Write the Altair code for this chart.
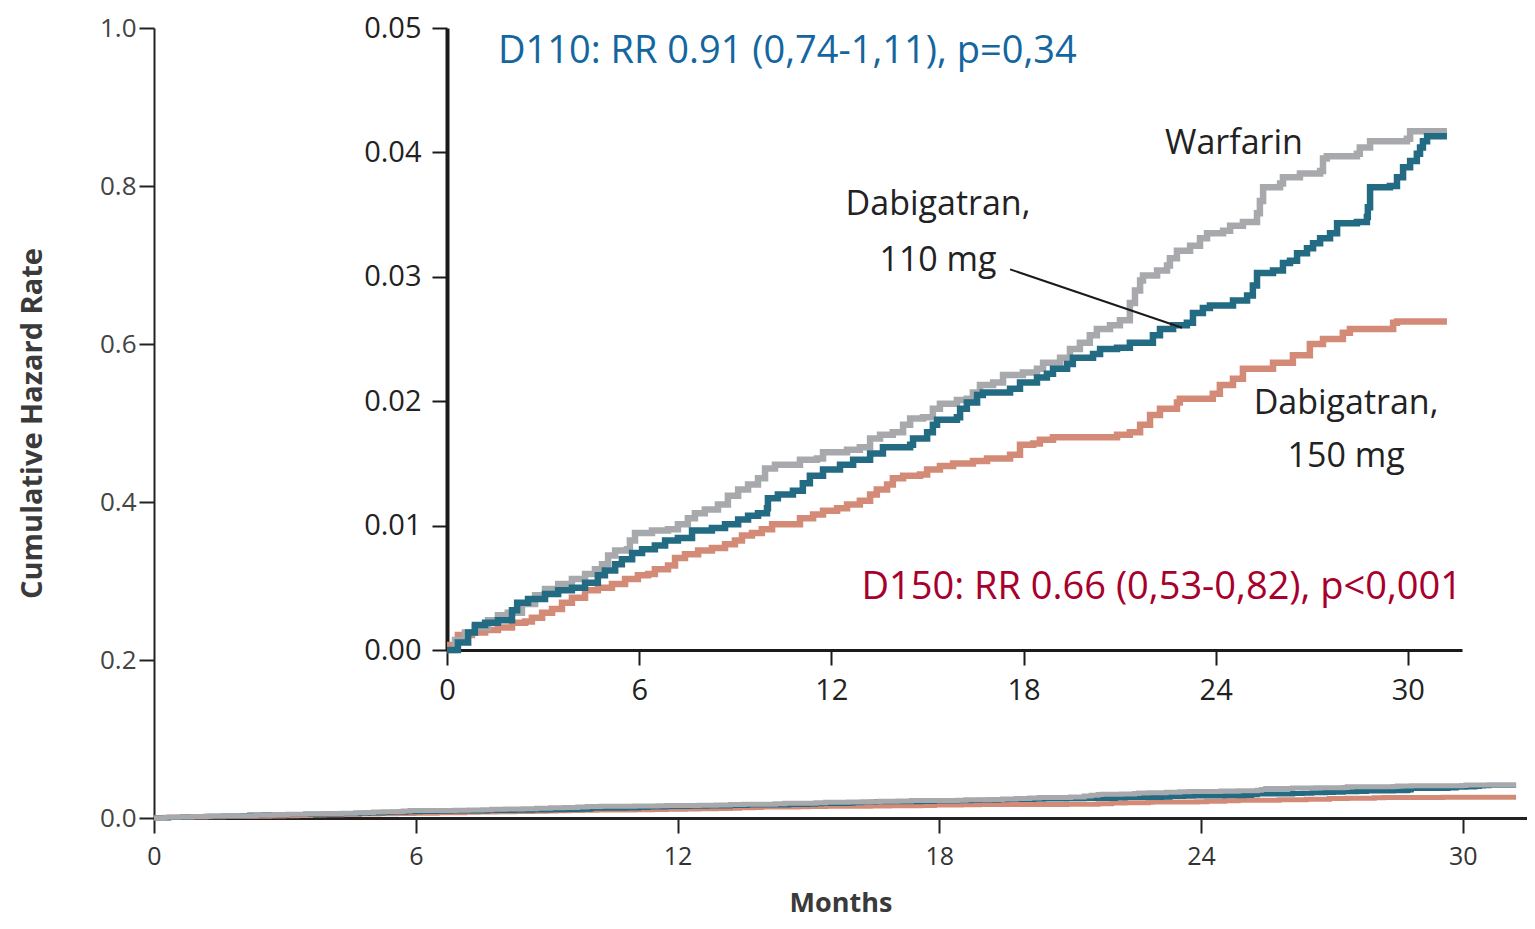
import altair as alt
import pandas as pd

# ---- data (months, cumulative hazard) ----
warf_t = [0, 0.25, 0.56, 0.87, 1.28, 1.59, 1.90, 2.34, 2.75, 3.06, 3.47, 3.90, 4.31, 4.62, 4.84, 5.03,
          5.25, 5.62, 5.71, 5.87, 6.40, 6.90, 7.21, 7.52, 7.74, 8.05, 8.46, 8.77, 9.09, 9.40, 9.71, 9.93,
          10.24, 11.02, 11.55, 11.74, 12.49, 12.89, 13.21, 13.52, 13.92, 14.24, 14.46, 14.86, 15.17,
          15.39, 15.92, 16.23, 16.42, 16.64, 17.05, 17.36, 17.98, 18.42, 18.61, 19.14, 19.45, 19.76,
          20.07, 20.29, 20.70, 21.01, 21.32, 21.48, 21.64, 21.73, 22.17, 22.48, 22.57, 22.79, 23.20,
          23.51, 23.73, 24.23, 24.45, 24.85, 25.29, 25.38, 25.48, 26.01, 26.10, 26.63, 27.26, 27.35,
          27.47, 28.41, 28.50, 28.82, 29.97, 30.07, 31.22]
warf_v = [0, 0.0008, 0.0014, 0.0018, 0.0024, 0.0028, 0.0030, 0.0037, 0.0044, 0.0049, 0.0053, 0.0057,
          0.0061, 0.0065, 0.0069, 0.0076, 0.0080, 0.0081, 0.0088, 0.0094, 0.0096, 0.0097, 0.0101, 0.0106,
          0.0110, 0.0113, 0.0117, 0.0124, 0.0129, 0.0133, 0.0138, 0.0146, 0.0149, 0.0153, 0.0154, 0.0159,
          0.0161, 0.0163, 0.0170, 0.0173, 0.0175, 0.0181, 0.0186, 0.0187, 0.0194, 0.0198, 0.0201, 0.0202,
          0.0207, 0.0213, 0.0215, 0.0221, 0.0223, 0.0226, 0.0231, 0.0235, 0.0242, 0.0247, 0.0253, 0.0258,
          0.0261, 0.0265, 0.0279, 0.0289, 0.0297, 0.0301, 0.0305, 0.0309, 0.0315, 0.0321, 0.0325, 0.0331,
          0.0335, 0.0337, 0.0341, 0.0344, 0.0351, 0.0361, 0.0372, 0.0375, 0.0380, 0.0383, 0.0385, 0.0395,
          0.0397, 0.0399, 0.0404, 0.0409, 0.0411, 0.0417, 0.0417]

d110_t = [0, 0.34, 0.66, 0.87, 1.19, 1.59, 2.03, 2.19, 2.53, 3.06, 3.47, 3.90, 4.31, 4.71, 4.93, 5.25,
          5.46, 5.78, 6.09, 6.49, 6.81, 7.21, 7.65, 8.27, 8.68, 9.09, 9.40, 9.71, 9.99, 10.02, 10.33,
          10.80, 11.11, 11.33, 11.74, 12.27, 12.68, 13.21, 13.61, 14.46, 14.55, 14.99, 15.17, 15.30,
          15.92, 16.02, 16.23, 16.55, 16.73, 17.58, 17.89, 18.42, 18.73, 18.92, 19.36, 19.54, 20.17,
          20.39, 20.92, 21.32, 22.04, 22.26, 22.67, 23.10, 23.29, 23.60, 23.82, 24.54, 24.98, 25.16,
          25.29, 25.79, 26.10, 26.32, 26.54, 26.85, 27.04, 27.26, 27.57, 27.79, 28.41, 28.72, 28.75,
          28.82, 29.44, 29.66, 29.85, 30.07, 30.28, 30.38, 30.47, 30.60, 31.22]
d110_v = [0, 0.0006, 0.0014, 0.0020, 0.0022, 0.0024, 0.0032, 0.0038, 0.0041, 0.0045, 0.0048, 0.0050,
          0.0054, 0.0060, 0.0064, 0.0069, 0.0073, 0.0078, 0.0081, 0.0084, 0.0088, 0.0090, 0.0096, 0.0098,
          0.0101, 0.0105, 0.0108, 0.0110, 0.0114, 0.0122, 0.0125, 0.0128, 0.0134, 0.0140, 0.0145, 0.0149,
          0.0153, 0.0158, 0.0163, 0.0165, 0.0170, 0.0175, 0.0181, 0.0185, 0.0187, 0.0194, 0.0199, 0.0205,
          0.0207, 0.0210, 0.0215, 0.0219, 0.0222, 0.0226, 0.0230, 0.0235, 0.0238, 0.0242, 0.0243, 0.0247,
          0.0253, 0.0258, 0.0261, 0.0263, 0.0271, 0.0275, 0.0277, 0.0281, 0.0285, 0.0293, 0.0303, 0.0305,
          0.0311, 0.0313, 0.0319, 0.0323, 0.0327, 0.0331, 0.0335, 0.0343, 0.0344, 0.0348, 0.0356, 0.0372,
          0.0373, 0.0380, 0.0388, 0.0393, 0.0399, 0.0404, 0.0409, 0.0413, 0.0413]

d150_t = [0, 0.34, 0.78, 1.19, 1.59, 2.03, 2.44, 2.65, 2.97, 3.28, 3.59, 3.90, 4.31, 4.71, 5.15, 5.56,
          5.96, 6.28, 6.49, 6.90, 7.12, 7.43, 7.84, 8.27, 8.68, 8.99, 9.21, 9.52, 9.83, 10.15, 11.02,
          11.43, 11.74, 12.18, 12.49, 12.89, 13.21, 13.42, 13.74, 13.92, 14.24, 14.77, 14.99, 15.39,
          15.80, 16.42, 16.86, 17.58, 17.89, 18.30, 18.51, 18.92, 20.92, 21.32, 21.64, 21.95, 22.26,
          22.79, 22.88, 23.91, 24.13, 24.54, 24.85, 25.79, 26.41, 26.94, 27.35, 27.97, 28.19, 29.54,
          29.66, 31.22]
d150_v = [0.0004, 0.0012, 0.0014, 0.0016, 0.0018, 0.0022, 0.0023, 0.0026, 0.0030, 0.0033, 0.0038, 0.0042,
          0.0048, 0.0050, 0.0053, 0.0057, 0.0060, 0.0061, 0.0065, 0.0068, 0.0074, 0.0077, 0.0080, 0.0082,
          0.0085, 0.0088, 0.0092, 0.0094, 0.0097, 0.0101, 0.0106, 0.0109, 0.0112, 0.0114, 0.0117, 0.0120,
          0.0125, 0.0129, 0.0133, 0.0138, 0.0140, 0.0141, 0.0145, 0.0148, 0.0150, 0.0152, 0.0154, 0.0157,
          0.0165, 0.0166, 0.0169, 0.0171, 0.0173, 0.0175, 0.0181, 0.0189, 0.0194, 0.0199, 0.0202, 0.0206,
          0.0213, 0.0218, 0.0226, 0.0231, 0.0237, 0.0246, 0.0250, 0.0255, 0.0258, 0.0263, 0.0264, 0.0264]

outer_ticks_x = [0, 6, 12, 18, 24, 30]
outer_ticks_y = [0.0, 0.2, 0.4, 0.6, 0.8, 1.0]
inset_ticks_y = [0.0, 0.01, 0.02, 0.03, 0.04, 0.05]

GRAY = "#a7a9ac"
TEAL = "#236a83"
SALMON = "#d38b77"

warf = pd.DataFrame({"t": warf_t, "v": warf_v})
d110 = pd.DataFrame({"t": d110_t, "v": d110_v})
d150 = pd.DataFrame({"t": d150_t, "v": d150_v})

TOP = 20
W, H = 1373, 790
FONT = "Open Sans"

# ---------- outer chart ----------
ox = alt.X("t:Q", scale=alt.Scale(domain=[0, 31.47], nice=False, zero=False),
           axis=alt.Axis(values=outer_ticks_x, title="Months", orient="bottom", grid=False, labelFlush=False,
                         domainColor="#222", domainWidth=3, tickColor="#222", tickWidth=2, tickSize=15,
                         labelFont=FONT, labelFontSize=25, labelColor="#333", labelPadding=11,
                         titleFont=FONT, titleFontSize=27, titleFontWeight="bold", titleColor="#3a3a3a",
                         titlePadding=21))
oy = alt.Y("v:Q", scale=alt.Scale(domain=[0, 1], nice=False),
           axis=alt.Axis(values=outer_ticks_y, format=".1f", title="Cumulative Hazard Rate", orient="left",
                         grid=False, labelFlush=False, domainColor="#222", domainWidth=2, tickColor="#222",
                         tickWidth=2, tickSize=15, labelFont=FONT, labelFontSize=26, labelColor="#444",
                         labelPadding=3, titleFont=FONT, titleFontSize=29, titleFontWeight="bold",
                         titleColor="#3a3a3a", titlePadding=52))

outer = alt.layer(
    alt.Chart(d150).mark_line(interpolate="step-after", color=SALMON, strokeWidth=5).encode(x=ox, y=oy),
    alt.Chart(d110).mark_line(interpolate="step-after", color=TEAL, strokeWidth=5).encode(x=ox, y=oy),
    alt.Chart(warf).mark_line(interpolate="step-after", color=GRAY, strokeWidth=5).encode(x=ox, y=oy),
)

# ---------- inset chart ----------
IX0, IX1 = 293, 1308
IY0 = 650 - 8 - TOP
ix_scale = alt.Scale(domain=[0, 31.69], range=[IX0, IX1], nice=False, zero=False)
iy_scale = alt.Scale(domain=[0, 0.05], range=[IY0, 0], nice=False)

ix = alt.X("t:Q", scale=ix_scale,
           axis=alt.Axis(values=outer_ticks_x, title=None, orient="bottom", offset=-(H - IY0), grid=False,
                         labelFlush=False, domainColor="#1a1a1a", domainWidth=3, tickColor="#1a1a1a",
                         tickWidth=2, tickSize=15, labelFont=FONT, labelFontSize=29, labelColor="#222",
                         labelPadding=11))
iy = alt.Y("v:Q", scale=iy_scale,
           axis=alt.Axis(values=inset_ticks_y, format=".2f", title=None, orient="left", offset=-IX0, grid=False,
                         labelFlush=False, domainColor="#1a1a1a", domainWidth=4, tickColor="#1a1a1a",
                         tickWidth=2, tickSize=15, labelFont=FONT, labelFontSize=29, labelColor="#222",
                         labelPadding=11))

labels = pd.DataFrame({
    "t": [24.57, 15.33, 15.33, 28.07, 28.07],
    "v": [0.0407, 0.0358, 0.0313, 0.0198, 0.0155],
    "txt": ["Warfarin", "Dabigatran,", "110 mg", "Dabigatran,", "150 mg"],
})
rr = pd.DataFrame({
    "t": [1.59, 31.69],
    "v": [0.0481, 0.0050],
    "txt": ["D110: RR 0.91 (0,74-1,11), p=0,34", "D150: RR 0.66 (0,53-0,82), p<0,001"],
})
leader = pd.DataFrame({"t": [17.58, 22.95], "v": [0.0306, 0.0259]})

inset = alt.layer(
    alt.Chart(d150).mark_line(interpolate="step-after", color=SALMON, strokeWidth=6.5).encode(x=ix, y=iy),
    alt.Chart(warf).mark_line(interpolate="step-after", color=GRAY, strokeWidth=6.5).encode(x=ix, y=iy),
    alt.Chart(d110).mark_line(interpolate="step-after", color=TEAL, strokeWidth=6.5).encode(x=ix, y=iy),
    alt.Chart(leader).mark_line(color="#1a1a1a", strokeWidth=2).encode(x=ix, y=iy),
    alt.Chart(labels).mark_text(font=FONT, fontSize=34, color="#222", align="center", baseline="middle")
        .encode(x=ix, y=iy, text="txt:N"),
    alt.Chart(rr.iloc[[0]]).mark_text(font=FONT, fontSize=38, color="#1466a0", align="left",
                                     baseline="middle").encode(x=ix, y=iy, text="txt:N"),
    alt.Chart(rr.iloc[[1]]).mark_text(font=FONT, fontSize=38, color="#a8002c", align="right",
                                     baseline="middle").encode(x=ix, y=iy, text="txt:N"),
)

chart = alt.layer(outer, inset).resolve_scale(x="independent", y="independent").resolve_axis(
    x="independent", y="independent").properties(
    width=W, height=H,
    background="white",
    autosize=alt.AutoSizeParams(type="none"),
    padding={"left": 146, "top": TOP, "right": 0, "bottom": 103},
).configure_view(strokeWidth=0, stroke="transparent")

chart.save("out.html", embed_options={"renderer": "svg", "actions": False})
